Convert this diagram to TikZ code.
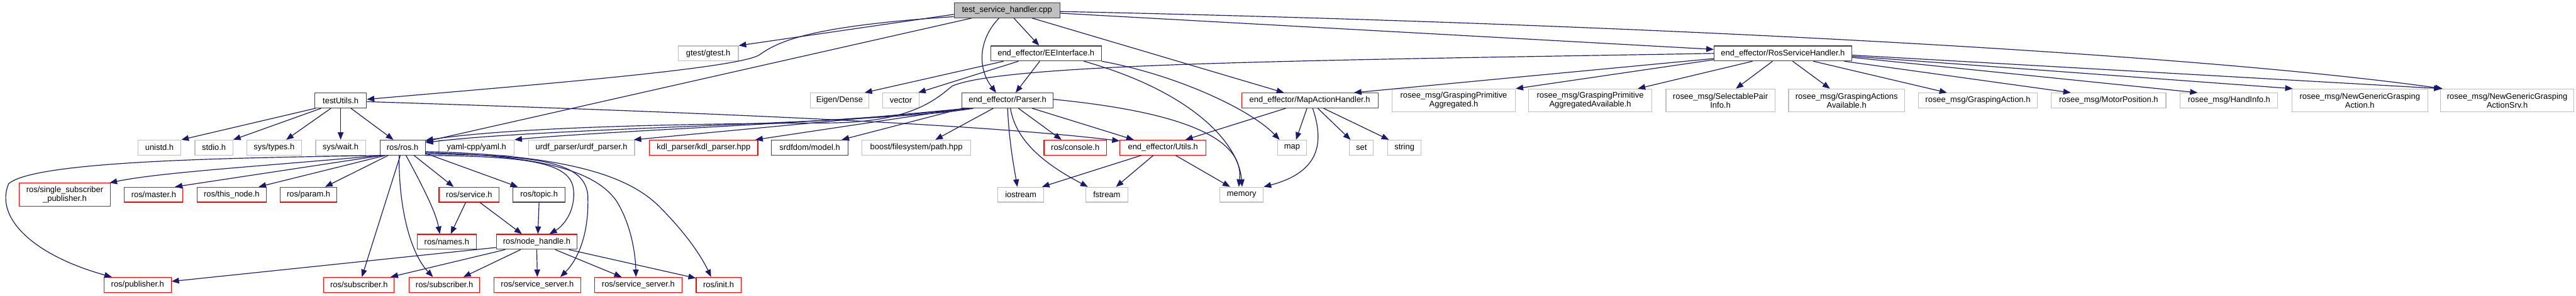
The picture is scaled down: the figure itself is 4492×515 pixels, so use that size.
\documentclass[tikz,border=0pt]{standalone}
\usepackage{fontspec}
\setmainfont{Liberation Sans}
\usetikzlibrary{arrows.meta}
\definecolor{edgecol}{HTML}{191970}
\definecolor{greyb}{HTML}{BFBFBF}
\definecolor{darkb}{HTML}{404040}
\definecolor{redb}{HTML}{FF0000}
\begin{document}
\begin{tikzpicture}[x=1pt,y=-1pt,
 box/.style={rectangle,draw,line width=1.3pt,inner sep=0pt,minimum height=26pt,align=center,fill=white,font=\fontsize{14.2pt}{15.5pt}\selectfont},
 gbox/.style={box,draw=greyb},
 rbox/.style={box,draw=redb},
 kbox/.style={box,draw=darkb},
 rootbox/.style={box,draw=darkb,fill=greyb},
 tall/.style={minimum height=40pt},
 dep/.style={draw=edgecol,line width=1.3pt,-{Triangle[length=13pt,width=10pt]}},
]
\fill[white] (0,0) rectangle (4492,515);
\useasboundingbox (0,0) rectangle (4492,515);

% row 1-2
\node[rootbox,minimum width=184pt] (tsh) at (1756,18) {test\_service\_handler.cpp};
\node[gbox,minimum width=105pt] (gtest) at (1235,93) {gtest/gtest.h};
\node[kbox,minimum width=193pt] (eei) at (1824,93) {end\_effector/EEInterface.h};
\node[kbox,minimum width=240pt] (rsh) at (3109,93) {end\_effector/RosServiceHandler.h};
% row 3
\node[kbox,minimum width=90pt] (tu) at (594,175) {testUtils.h};
\node[gbox,minimum width=102pt] (eigen) at (1464,175) {Eigen/Dense};
\node[gbox,minimum width=63pt] (vector) at (1571,175) {vector};
\node[kbox,minimum width=159pt] (parser) at (1757,175) {end\_effector/Parser.h};
\node[rbox,minimum width=238pt] (mah) at (2284,175) {end\_effector/MapActionHandler.h};
\node[gbox,tall,minimum width=215pt] (gpa) at (2535,175) {rosee\_msg/GraspingPrimitive\\Aggregated.h};
\node[gbox,tall,minimum width=215pt] (gpaa) at (2773,175) {rosee\_msg/GraspingPrimitive\\AggregatedAvailable.h};
\node[gbox,tall,minimum width=190pt] (spi) at (3000,175) {rosee\_msg/SelectablePair\\Info.h};
\node[gbox,tall,minimum width=202pt] (gaa) at (3220,175) {rosee\_msg/GraspingActions\\Available.h};
\node[gbox,minimum width=208pt] (ga) at (3449,175) {rosee\_msg/GraspingAction.h};
\node[gbox,minimum width=200pt] (mp) at (3677,175) {rosee\_msg/MotorPosition.h};
\node[gbox,minimum width=170pt] (hi) at (3887,175) {rosee\_msg/HandInfo.h};
\node[gbox,tall,minimum width=237pt] (ngga) at (4115,175) {rosee\_msg/NewGenericGrasping\\Action.h};
\node[gbox,tall,minimum width=232pt] (nggas) at (4372,175) {rosee\_msg/NewGenericGrasping\\ActionSrv.h};
% row 4
\node[gbox,minimum width=75pt] (unistd) at (278,257) {unistd.h};
\node[gbox,minimum width=66pt] (stdio) at (373,257) {stdio.h};
\node[gbox,minimum width=96pt] (systypes) at (478,257) {sys/types.h};
\node[gbox,minimum width=87pt] (syswait) at (594,257) {sys/wait.h};
\node[kbox,minimum width=79pt] (rosros) at (702,257) {ros/ros.h};
\node[gbox,minimum width=131pt] (yaml) at (831,257) {yaml-cpp/yaml.h};
\node[gbox,minimum width=185pt] (urdf) at (1014,257) {urdf\_parser/urdf\_parser.h};
\node[rbox,minimum width=189pt] (kdl) at (1227,257) {kdl\_parser/kdl\_parser.hpp};
\node[kbox,minimum width=134pt] (srdf) at (1412,257) {srdfdom/model.h};
\node[gbox,minimum width=190pt] (boost) at (1598,257) {boost/filesystem/path.hpp};
\node[rbox,minimum width=109pt] (console) at (1875,257) {ros/console.h};
\node[rbox,minimum width=150pt] (utils) at (2028,257) {end\_effector/Utils.h};
\node[gbox,minimum width=50pt] (map) at (2253,257) {map};
\node[gbox,minimum width=42pt] (set) at (2374,257) {set};
\node[gbox,minimum width=58pt] (string) at (2449,257) {string};
% row 5
\node[rbox,tall,minimum width=159pt] (ssp) at (113,339) {ros/single\_subscriber\\\_publisher.h};
\node[rbox,minimum width=102pt] (master) at (268,339) {ros/master.h};
\node[rbox,minimum width=121pt] (thisnode) at (404,339) {ros/this\_node.h};
\node[rbox,minimum width=99pt] (param) at (538,339) {ros/param.h};
\node[rbox,minimum width=105pt] (service) at (818,339) {ros/service.h};
\node[kbox,minimum width=91pt] (topic) at (940,339) {ros/topic.h};
\node[gbox,minimum width=80pt] (iostream) at (1780,339) {iostream};
\node[gbox,minimum width=73pt] (fstream) at (1930,339) {fstream};
\node[gbox,minimum width=76pt] (memory) at (2165,339) {memory};
% row 6
\node[rbox,minimum width=103pt] (names) at (779,421) {ros/names.h};
\node[rbox,minimum width=141pt] (nh) at (936,421) {ros/node\_handle.h};
% row 7
\node[rbox,minimum width=117pt] (pub) at (240,496) {ros/publisher.h};
\node[rbox,minimum width=123pt] (sub1) at (626,496) {ros/subscriber.h};
\node[rbox,minimum width=123pt] (sub2) at (775,496) {ros/subscriber.h};
\node[rbox,minimum width=152pt] (ss1) at (937,496) {ros/service\_server.h};
\node[rbox,minimum width=152pt] (ss2) at (1113,496) {ros/service\_server.h};
\node[rbox,minimum width=78pt] (init) at (1253,496) {ros/init.h};

% test_service_handler.cpp
\draw[dep] ([yshift=-7pt]tsh.west) -- (gtest.north east);
\draw[dep] ([yshift=-11pt]tsh.west) .. controls (1420,45) and (1360,70) .. (1325,95) .. controls (1290,120) and (900,150) .. ([yshift=2pt]tu.east);
\draw[dep] ([xshift=-62pt]tsh.south) -- ([yshift=-3pt]rosros.north east);
\draw[dep] ([xshift=12pt]tsh.south) -- ([xshift=-12pt]eei.north);
\draw[dep] ([xshift=-14pt]tsh.south) .. controls (1705,70) and (1705,120) .. ([xshift=-20pt]parser.north);
\draw[dep] ([xshift=44pt]tsh.south) -- ([xshift=-45pt]mah.north);
\draw[dep] ([yshift=-5pt]tsh.east) -- ([yshift=7pt]rsh.west);
\draw[dep] ([yshift=-2pt]tsh.east) .. controls (2800,40) and (3800,90) .. ([xshift=4pt]nggas.north west);

% EEInterface.h
\draw[dep] ([xshift=-74pt]eei.south) -- ([xshift=-8pt]eigen.north east);
\draw[dep] ([xshift=-48pt]eei.south) -- ([xshift=-2pt]vector.north east);
\draw[dep] ([xshift=-11pt]eei.south) -- ([xshift=14pt]parser.north);
\draw[dep] ([xshift=66pt]eei.south) .. controls (2080,160) and (2160,250) .. ([xshift=1pt]memory.north);
\draw[dep] (eei.south east) .. controls (2050,130) and (2180,190) .. ([xshift=4pt]map.north west);

% Parser.h
\draw[dep] ([xshift=43pt]parser.south) -- ([xshift=-51pt]utils.north);
\draw[dep] ([xshift=19pt]parser.south) -- ([xshift=-24pt]console.north);
\draw[dep] ([xshift=-25pt]parser.south) -- ([xshift=33pt]boost.north);
\draw[dep] (parser.south) .. controls (1760,250) and (1768,290) .. ([xshift=-6pt]iostream.north);
\draw[dep] ([xshift=5pt]parser.south) .. controls (1772,250) and (1830,290) .. ([xshift=-33pt]fstream.north);
\draw[dep] ([yshift=2pt]parser.east) .. controls (2060,195) and (2170,240) .. ([xshift=-5pt]memory.north);
\draw[dep] ([xshift=-60pt]parser.south) .. controls (1550,215) and (950,222) .. ([yshift=-5pt]rosros.north east);
\draw[dep] ([xshift=-66pt]parser.south) .. controls (1500,212) and (1050,228) .. (yaml.north east);
\draw[dep] ([xshift=-70pt]parser.south) -- ([xshift=-2pt]urdf.north east);
\draw[dep] ([xshift=-74pt]parser.south) -- ([xshift=-5pt]kdl.north east);
\draw[dep] ([xshift=-78pt]parser.south) -- ([xshift=-12pt]srdf.north east);

% RosServiceHandler.h
\draw[dep] (rsh.west) .. controls (2300,105) and (1750,110) .. (1660,150) .. controls (1625,180) and (1580,212) .. (1450,214) .. controls (1050,216) and (850,228) .. ([yshift=-1pt]rosros.north east);
\draw[dep] ([yshift=-9pt]rsh.west) -- ([xshift=77pt]mah.north);
\draw[dep] ([yshift=-11pt]rsh.west) -- (gpa.north east);
\draw[dep] ([xshift=-53pt]rsh.south) -- ([xshift=83pt]gpaa.north);
\draw[dep] ([xshift=-18pt]rsh.south) -- ([xshift=27pt]spi.north);
\draw[dep] ([xshift=17pt]rsh.south) -- ([xshift=-29pt]gaa.north);
\draw[dep] ([xshift=53pt]rsh.south) -- ([xshift=-54pt]ga.north);
\draw[dep] ([xshift=107pt]rsh.south) -- ([xshift=-66pt]mp.north);
\draw[dep] ([yshift=-7pt]rsh.east) -- ([xshift=-55pt]hi.north);
\draw[dep] ([yshift=-5pt]rsh.east) -- ([xshift=2pt]ngga.north west);
\draw[dep] ([yshift=-3pt]rsh.east) -- ([xshift=2pt]nggas.north west);

% testUtils.h
\draw[dep] ([xshift=-44pt]tu.south) -- (unistd.north east);
\draw[dep] ([xshift=-34pt]tu.south) -- (stdio.north east);
\draw[dep] ([xshift=-17pt]tu.south) -- ([xshift=21pt]systypes.north);
\draw[dep] (tu.south) -- (syswait.north);
\draw[dep] ([xshift=18pt]tu.south) -- ([xshift=-16pt]rosros.north);
\draw[dep] ([yshift=-2pt]tu.east) .. controls (1200,195) and (1700,215) .. ([yshift=-2pt]utils.north west);

% MapActionHandler.h
\draw[dep] ([xshift=-5pt]mah.south) -- ([xshift=7pt]map.north);
\draw[dep] ([xshift=5pt]mah.south) .. controls (2310,250) and (2300,300) .. (memory.north east);
\draw[dep] ([xshift=14pt]mah.south) -- ([xshift=-19pt]set.north);
\draw[dep] ([xshift=24pt]mah.south) -- ([xshift=-27pt]string.north);
\draw[dep] ([xshift=-42pt]mah.south) -- ([xshift=39pt]utils.north);

% Utils.h
\draw[dep] ([xshift=-38pt]utils.south) -- ([xshift=37pt]iostream.north);
\draw[dep] ([xshift=-17pt]utils.south) -- ([xshift=16pt]fstream.north);
\draw[dep] ([xshift=22pt]utils.south) -- ([xshift=-20pt]memory.north);

% ros/ros.h
\draw[dep] ([xshift=-38pt]rosros.south) .. controls (450,290) and (280,300) .. ([xshift=-2pt]ssp.north east);
\draw[dep] ([xshift=-35pt]rosros.south) -- ([xshift=37pt]master.north);
\draw[dep] ([xshift=-30pt]rosros.south) -- ([xshift=47pt]thisnode.north);
\draw[dep] ([xshift=-25pt]rosros.south) -- ([xshift=29pt]param.north);
\draw[dep] ([xshift=-39pt]rosros.south) .. controls (400,275) and (60,280) .. (15,320) .. controls (-10,380) and (60,445) .. ([xshift=-45pt]pub.north);
\draw[dep] ([xshift=-4pt]rosros.south) -- ([xshift=5pt]sub1.north);
\draw[dep] ([xshift=-6pt]rosros.south) .. controls (695,360) and (715,440) .. ([xshift=-20pt]sub2.north);
\draw[dep] ([xshift=6pt]rosros.south) .. controls (740,330) and (760,370) .. ([xshift=-12pt]names.north);
\draw[dep] ([xshift=20pt]rosros.south) -- ([xshift=-27pt]service.north);
\draw[dep] ([yshift=-10pt]rosros.east) -- ([xshift=-37pt]topic.north);
\draw[dep] (rosros.south east) .. controls (930,272) and (995,285) .. (1000,330) .. controls (1004,370) and (980,395) .. ([xshift=22pt]nh.north);
\draw[dep] ([yshift=-11pt]rosros.east) .. controls (950,270) and (1020,285) .. (1025,340) .. controls (1028,420) and (1000,460) .. ([xshift=40pt]ss1.north);
\draw[dep] ([yshift=-9pt]rosros.east) .. controls (950,270) and (1040,300) .. (1075,350) .. controls (1100,390) and (1108,440) .. ([xshift=-4pt]ss2.north);
\draw[dep] ([yshift=-7pt]rosros.east) .. controls (1000,270) and (1100,310) .. (1150,360) .. controls (1190,400) and (1220,440) .. ([xshift=-13pt]init.north);

% service, topic, node_handle
\draw[dep] ([xshift=-6pt]service.south) -- ([xshift=7pt]names.north);
\draw[dep] ([xshift=19pt]service.south) -- ([xshift=-26pt]nh.north);
\draw[dep] (topic.south) -- ([xshift=2pt]nh.north);
\draw[dep] ([yshift=-10pt]nh.west) -- ([yshift=6pt]pub.east);
\draw[dep] ([xshift=-55pt]nh.south) -- ([xshift=55pt]sub1.north);
\draw[dep] ([xshift=-28pt]nh.south) -- ([xshift=33pt]sub2.north);
\draw[dep] (nh.south) -- (ss1.north);
\draw[dep] ([xshift=32pt]nh.south) -- ([xshift=-29pt]ss2.north);
\draw[dep] ([xshift=56pt]nh.south) -- ([yshift=-2pt]init.north west);
\end{tikzpicture}
\end{document}
